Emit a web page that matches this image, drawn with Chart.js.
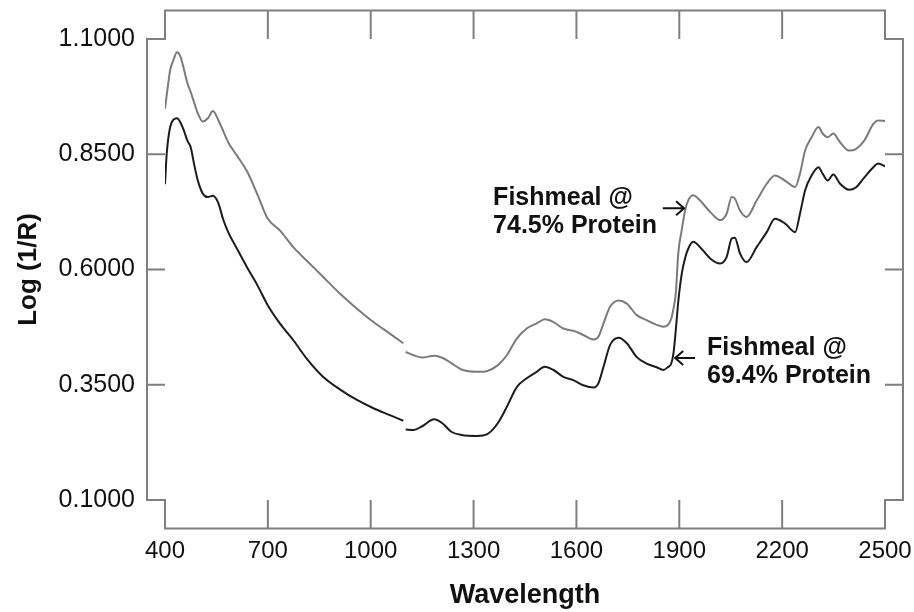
<!DOCTYPE html>
<html>
<head>
<meta charset="utf-8">
<script src="https://cdn.jsdelivr.net/npm/chart.js@4.4.1/dist/chart.umd.min.js"></script>
<style>
  body { margin: 0; background: #fff; }
  #wrap { width: 914px; height: 612px; }
</style>
</head>
<body>
<div id="wrap"><canvas id="chart"></canvas></div>
<script>
// wavelength (nm) - null row at 1098 is the detector break
const wavelengths = [400, 405, 415, 425, 435, 445, 455, 465, 475, 485, 495, 510, 525, 540, 555, 570, 585, 610, 640, 670,
  700, 735, 775, 815, 860, 910, 960, 1008, 1056, 1095, 1098, 1102, 1125, 1150, 1185, 1210, 1235, 1265, 1310, 1340,
  1370, 1397, 1426, 1455, 1484, 1508, 1533, 1562, 1591, 1620, 1650, 1664, 1679, 1698, 1723, 1747, 1776, 1805, 1834, 1854,
  1866, 1876, 1883, 1890, 1897, 1907, 1917, 1926, 1941, 1960, 1990, 2019, 2038, 2053, 2062, 2077, 2096, 2126, 2155, 2179,
  2208, 2238, 2252, 2267, 2286, 2306, 2318, 2333, 2349, 2369, 2395, 2415, 2440, 2466, 2480, 2500];

const protein745 = [0.949, 0.978, 1.032, 1.055, 1.071, 1.062, 1.035, 1.005, 0.985, 0.962, 0.940, 0.921, 0.928, 0.944, 0.925, 0.900, 0.875, 0.847, 0.812, 0.762,
  0.710, 0.685, 0.648, 0.618, 0.585, 0.548, 0.515, 0.486, 0.461, 0.440, null, 0.421, 0.414, 0.409, 0.413, 0.408, 0.397, 0.383, 0.378, 0.380,
  0.392, 0.414, 0.450, 0.472, 0.483, 0.492, 0.486, 0.472, 0.467, 0.458, 0.448, 0.454, 0.483, 0.519, 0.533, 0.526, 0.501, 0.490, 0.480, 0.476,
  0.479, 0.492, 0.515, 0.550, 0.635, 0.685, 0.728, 0.750, 0.761, 0.750, 0.725, 0.707, 0.721, 0.757, 0.754, 0.728, 0.714, 0.750, 0.786, 0.804,
  0.793, 0.779, 0.808, 0.858, 0.887, 0.909, 0.895, 0.887, 0.895, 0.876, 0.858, 0.861, 0.880, 0.916, 0.923, 0.922];

const protein694 = [0.785, 0.851, 0.909, 0.925, 0.928, 0.919, 0.902, 0.880, 0.865, 0.828, 0.795, 0.765, 0.757, 0.760, 0.745, 0.708, 0.680, 0.645, 0.604, 0.565,
  0.522, 0.483, 0.446, 0.405, 0.368, 0.340, 0.317, 0.299, 0.284, 0.272, null, 0.253, 0.252, 0.260, 0.275, 0.266, 0.248, 0.241, 0.239, 0.243,
  0.266, 0.302, 0.345, 0.364, 0.378, 0.389, 0.382, 0.367, 0.360, 0.349, 0.344, 0.353, 0.389, 0.436, 0.452, 0.440, 0.410, 0.396, 0.388, 0.382,
  0.388, 0.395, 0.418, 0.470, 0.530, 0.590, 0.625, 0.645, 0.660, 0.649, 0.624, 0.613, 0.627, 0.667, 0.669, 0.635, 0.616, 0.649, 0.681, 0.710,
  0.700, 0.681, 0.721, 0.772, 0.804, 0.822, 0.808, 0.793, 0.806, 0.786, 0.773, 0.778, 0.800, 0.822, 0.830, 0.824];

const xTicks = [400, 700, 1000, 1300, 1600, 1900, 2200, 2500];
const yTicks = [0.1, 0.35, 0.6, 0.85, 1.1];

const labelFont = "'Liberation Sans', Arial, sans-serif";
const frameColor = "#7f7f7f";

// callouts: text block + arrow, placed in data units
const notes = [
  { lines: ["Fishmeal @", "74.5% Protein"], textX: 1357, textY: [0.739, 0.679], arrowFrom: 1852, arrowTo: 1914, arrowY: 0.733 },
  { lines: ["Fishmeal @", "69.4% Protein"], textX: 1981, textY: [0.414, 0.354], arrowFrom: 1946, arrowTo: 1888, arrowY: 0.408 },
];

const framePlugin = {
  id: "frame",
  beforeDatasetsDraw(chart) {
    const { ctx, scales: { x, y } } = chart;
    const xl = x.getPixelForValue(400), xr = x.getPixelForValue(2500);
    const yt = y.getPixelForValue(1.1), yb = y.getPixelForValue(0.1);
    const dx = 18, dy = 28.5;
    ctx.save();
    ctx.strokeStyle = frameColor;
    ctx.lineWidth = 2;
    ctx.beginPath();
    ctx.moveTo(xl, yt - dy);
    ctx.lineTo(xr, yt - dy);
    ctx.lineTo(xr, yt);
    ctx.lineTo(xr + dx, yt);
    ctx.lineTo(xr + dx, yb);
    ctx.lineTo(xr, yb);
    ctx.lineTo(xr, yb + dy);
    ctx.lineTo(xl, yb + dy);
    ctx.lineTo(xl, yb);
    ctx.lineTo(xl - dx, yb);
    ctx.lineTo(xl - dx, yt);
    ctx.lineTo(xl, yt);
    ctx.closePath();
    xTicks.slice(1, -1).forEach((t) => {
      const px = x.getPixelForValue(t);
      ctx.moveTo(px, yb + dy); ctx.lineTo(px, yb);
      ctx.moveTo(px, yt - dy); ctx.lineTo(px, yt);
    });
    yTicks.slice(1, -1).forEach((t) => {
      const py = y.getPixelForValue(t);
      ctx.moveTo(xl - dx, py); ctx.lineTo(xl, py);
      ctx.moveTo(xr, py); ctx.lineTo(xr + dx, py);
    });
    ctx.stroke();
    ctx.restore();
  },
  afterDatasetsDraw(chart) {
    const { ctx, scales: { x, y } } = chart;
    ctx.save();
    ctx.fillStyle = "#111";
    ctx.strokeStyle = "#111";
    ctx.lineWidth = 2;
    ctx.font = "bold 25px " + labelFont;
    ctx.textBaseline = "alphabetic";
    notes.forEach((n) => {
      n.lines.forEach((line, i) => {
        ctx.fillText(line, x.getPixelForValue(n.textX), y.getPixelForValue(n.textY[i]));
      });
      const x1 = x.getPixelForValue(n.arrowFrom), x2 = x.getPixelForValue(n.arrowTo);
      const ay = y.getPixelForValue(n.arrowY);
      const dir = x2 > x1 ? 1 : -1;
      ctx.beginPath();
      ctx.moveTo(x1, ay); ctx.lineTo(x2, ay);
      ctx.moveTo(x2 - dir * 8, ay - 7); ctx.lineTo(x2, ay); ctx.lineTo(x2 - dir * 8, ay + 7);
      ctx.stroke();
    });
    ctx.restore();
  },
};

const toPoints = (vals) => wavelengths.map((w, i) => ({ x: w, y: vals[i] }));

const config = {
  type: "line",
  data: {
    datasets: [
      { label: "Fishmeal @ 74.5% Protein", data: toPoints(protein745), borderColor: "#7b7b7b", borderWidth: 2 },
      { label: "Fishmeal @ 69.4% Protein", data: toPoints(protein694), borderColor: "#1c1c1c", borderWidth: 2 },
    ],
  },
  options: {
    responsive: true,
    maintainAspectRatio: false,
    animation: false,
    spanGaps: false,
    elements: { point: { radius: 0 }, line: { cubicInterpolationMode: "monotone" } },
    layout: { padding: { top: 39, right: 29, left: 0, bottom: 0 } },
    plugins: { legend: { display: false }, tooltip: { enabled: false } },
    scales: {
      x: {
        type: "linear",
        min: 400,
        max: 2500,
        grid: { display: false },
        border: { display: false },
        afterBuildTicks: (s) => { s.ticks = xTicks.map((v) => ({ value: v })); },
        afterFit: (s) => { s.height = 112; s.paddingLeft = 0; s.paddingRight = 0; },
        ticks: { color: "#111", padding: 29, maxRotation: 0, font: { family: labelFont, size: 24 }, callback: (v) => String(v) },
        title: { display: true, text: "Wavelength", color: "#111", padding: { top: 0, bottom: 0 }, font: { family: labelFont, size: 27, weight: "bold", lineHeight: 1.2 } },
      },
      y: {
        min: 0.1,
        max: 1.1,
        grid: { display: false },
        border: { display: false },
        afterBuildTicks: (s) => { s.ticks = yTicks.map((v) => ({ value: v })); },
        afterFit: (s) => { s.width = 165; s.paddingTop = 0; s.paddingBottom = 0; },
        ticks: { color: "#111", padding: 22, font: { family: labelFont, size: 25 }, callback: (v) => Number(v).toFixed(4) },
        title: { display: true, text: "Log (1/R)", color: "#111", padding: { top: 13, bottom: 0 }, font: { family: labelFont, size: 26, weight: "bold", lineHeight: 1.2 } },
      },
    },
  },
  plugins: [framePlugin],
};

new Chart(document.getElementById("chart"), config);
</script>
</body>
</html>
